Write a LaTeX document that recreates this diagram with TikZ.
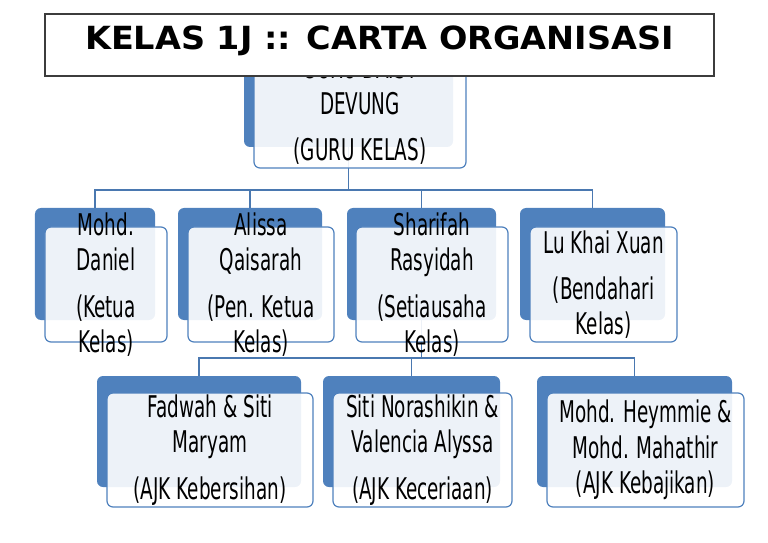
\documentclass[tikz,border=0pt]{standalone}
\usepackage{fontspec}
\setmainfont{DejaVu Sans}[FakeStretch=0.615]
\newfontfamily\titlefont{DejaVu Sans}[FakeStretch=1.05]
\usepackage{tikz}
\usetikzlibrary{positioning}
\definecolor{chartblue}{HTML}{4F81BD}
\definecolor{linkblue}{HTML}{4A78B0}
\definecolor{framegray}{HTML}{3C3C3C}

\begin{document}
\begin{tikzpicture}[x=1bp,y={(0bp,-1bp)}]
            \tikzset{
                backbox/.style={fill=chartblue, rounded corners=6bp, inner sep=0pt, minimum height=112bp},
                frontbox/.style={draw=chartblue, fill=white, fill opacity=0.9, line width=1.2bp, rounded corners=6bp, inner sep=0pt, minimum height=115bp},
                member/.style={align=center, inner sep=0pt, font=\fontsize{30}{35.5}\selectfont},
                link/.style={draw=linkblue, line width=1.5bp},
                titlebox/.style={draw=framegray, fill=white, line width=1.2bp, inner sep=0pt}
            }
            \useasboundingbox (0,0) rectangle (768,543);
            % connectors
            \draw[link] (348.5,147) -- (348.5,190) coordinate (busone);
            \draw[link] (95,208) |- (busone) -| (592.5,208);
            \draw[link] (250,208) -- (250,190);
            \draw[link] (421.5,190) -- (421.5,208);
            \draw[link] (421.5,320) -- (421.5,358) coordinate (bustwo);
            \draw[link] (199,376) |- (bustwo) -| (634.5,376);
            \draw[link] (411.5,358) -- (411.5,376);
            % guru kelas
            \node[backbox, minimum width=209bp, minimum height=113bp] (guruback) at (348.5,90.5) {};
            \node[frontbox, minimum width=212bp] (gurubox) at (360,110.5) {};
            \node[member] (guru) at (gurubox) {GURU DAISY\\DEVUNG\\[11bp](GURU KELAS)};
            % row two
            \node[backbox, minimum width=120bp] (ketuaback) at (95,264) {};
            \node[frontbox, minimum width=122bp] (ketuabox) at (106,284.5) {};
            \node[member] (ketua) at (ketuabox) {Mohd.\\Daniel\\[11bp](Ketua\\Kelas)};
            \node[backbox, minimum width=144bp] (penketuaback) at (250,264) {};
            \node[frontbox, minimum width=146bp] (penketuabox) at (261,284.5) {};
            \node[member] (penketua) at (penketuabox) {Alissa\\Qaisarah\\[11bp](Pen. Ketua\\Kelas)};
            \node[backbox, minimum width=149bp] (setiausahaback) at (421.5,264) {};
            \node[frontbox, minimum width=152bp] (setiausahabox) at (432,284.5) {};
            \node[member] (setiausaha) at (setiausahabox) {Sharifah\\Rasyidah\\[11bp](Setiausaha\\Kelas)};
            \node[backbox, minimum width=145bp] (bendahariback) at (592.5,264) {};
            \node[frontbox, minimum width=147bp] (bendaharibox) at (603.5,284.5) {};
            \node[member] (bendahari) at (bendaharibox) {Lu Khai Xuan\\[11bp](Bendahari\\Kelas)};
            % row three
            \node[backbox, minimum width=204bp, minimum height=111bp] (kebersihanback) at (199,431.5) {};
            \node[frontbox, minimum width=206bp, minimum height=114bp] (kebersihanbox) at (210,450) {};
            \node[member] (kebersihan) at (kebersihanbox) {Fadwah \& Siti\\Maryam\\[11bp](AJK Kebersihan)};
            \node[backbox, minimum width=177bp, minimum height=111bp] (keceriaanback) at (411.5,431.5) {};
            \node[frontbox, minimum width=179bp, minimum height=114bp] (keceriaanbox) at (422.5,450) {};
            \node[member] (keceriaan) at (keceriaanbox) {Siti Norashikin \&\\Valencia Alyssa\\[11bp](AJK Keceriaan)};
            \node[backbox, minimum width=195bp, minimum height=111bp] (kebajikanback) at (634.5,431.5) {};
            \node[frontbox, minimum width=197bp, minimum height=114bp] (kebajikanbox) at (645.5,450) {};
            \node[member] (kebajikan) at (kebajikanbox) {Mohd. Heymmie \&\\Mohd. Mahathir\\(AJK Kebajikan)};
            % title
            \node[titlebox, minimum width=669bp, minimum height=62bp] (titlebox) at (379.5,45) {};
            \node[inner sep=0pt, font=\titlefont\bfseries\fontsize{32}{36}\selectfont] (title) at (379.5,41) {KELAS 1J :: CARTA ORGANISASI};
        \end{tikzpicture}
\end{document}
